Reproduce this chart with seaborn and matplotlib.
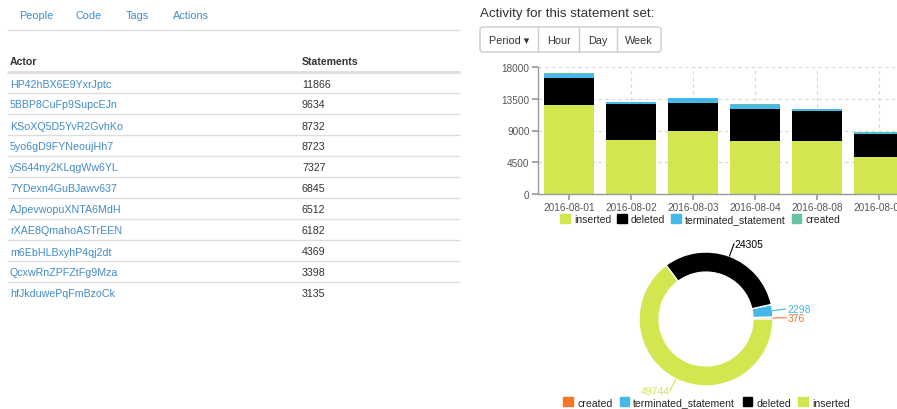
# plot.py - dashboard: actor table + stacked activity bars + verb donut
import numpy as np
import matplotlib
matplotlib.use("Agg")
import matplotlib.pyplot as plt
from matplotlib.patches import FancyBboxPatch, Patch
import seaborn as sns

sns.set_theme(style="white")
plt.rcParams["font.family"] = ["Liberation Sans", "DejaVu Sans"]

# --- data ---
nav_tabs = ["People", "Code", "Tags", "Actions"]
actors = ["HP42hBX6E9YxrJptc", "5BBP8CuFp9SupcEJn", "KSoXQ5D5YvR2GvhKo",
          "5yo6gD9FYNeoujHh7", "yS644ny2KLqgWw6YL", "7YDexn4GuBJawv637",
          "AJpevwopuXNTA6MdH", "rXAE8QmahoASTrEEN", "m6EbHLBxyhP4qj2dt",
          "QcxwRnZPFZtFg9Mza", "hfJkduwePqFmBzoCk"]
statements = [11866, 9634, 8732, 8723, 7327, 6845, 6512, 6182, 4369, 3398, 3135]
period_buttons = ["Period \u25be", "Hour", "Day", "Week"]

dates = ["2016-08-01", "2016-08-02", "2016-08-03", "2016-08-04",
         "2016-08-08", "2016-08-09"]
inserted = [12560, 7630, 9000, 7540, 7580, 5210]
deleted = [3890, 5070, 3890, 4500, 4130, 3230]
terminated = [570, 330, 670, 620, 280, 230]
created = [70, 60, 70, 60, 60, 56]
yticks = [0, 4500, 9000, 13500, 18000]

donut_labels = ["created", "terminated_statement", "deleted", "inserted"]
donut_values = [376, 2298, 24305, 49744]

LIME = "#d3e650"
BLACK = "#000000"
BLUE = "#45b8e8"
TEAL = "#66c2a5"
ORANGE = "#f5782a"
LINK = "#428bca"
TXT = "#333333"

W, H = 897, 410
fig = plt.figure(figsize=(W / 100, H / 100), dpi=100)
fig.patch.set_facecolor("white")

# background axes in pixel coords for the html-ish bits
bg = fig.add_axes([0, 0, 1, 1])
bg.set_xlim(0, W)
bg.set_ylim(H, 0)
bg.axis("off")

for name, x in zip(nav_tabs, [19, 76, 126, 173]):
    bg.text(x, 16, name, color=LINK, fontsize=7.8, va="center")
bg.hlines(31, 7, 460, color="#dddddd", lw=1)

bg.text(10, 62, "Actor", fontsize=7.6, weight="bold", color=TXT, va="center")
bg.text(302, 62, "Statements", fontsize=7.6, weight="bold", color=TXT, va="center")
bg.hlines(73, 7, 460, color="#dddddd", lw=2)
for i, (a, s) in enumerate(zip(actors, statements)):
    top = 73 + 21 * i
    if i:
        bg.hlines(top, 7, 460, color="#dddddd", lw=1)
    bg.text(10, top + 11.5, a, color=LINK, fontsize=7.7, va="center")
    bg.text(302, top + 11.5, str(s), color=TXT, fontsize=7.7, va="center")

bg.text(480, 14, "Activity for this statement set:", fontsize=9.6, color=TXT, va="center")
bg.add_patch(FancyBboxPatch((480, 28), 181, 25, boxstyle="round,pad=0,rounding_size=3",
                            fc="white", ec="#cccccc", lw=1))
edges = [480, 538, 579, 617, 661]
for j, lab in enumerate(period_buttons):
    if j:
        bg.vlines(edges[j], 28, 53, color="#cccccc", lw=1)
    bg.text((edges[j] + edges[j + 1]) / 2, 40.5, lab, fontsize=7.8, color=TXT,
            ha="center", va="center")

# --- stacked bars ---
ax = fig.add_axes([538 / W, (H - 195) / H, 372 / W, 127 / H])
layers = [("inserted", inserted, LIME), ("deleted", deleted, BLACK),
          ("terminated_statement", terminated, BLUE), ("created", created, TEAL)]
tops = np.cumsum([l[1] for l in layers], axis=0)
for (name, _, col), top in reversed(list(zip(layers, tops))):
    sns.barplot(x=dates, y=top, color=col, saturation=1, width=0.8,
                linewidth=0, errorbar=None, ax=ax)
ax.set_xlim(-0.5, len(dates) - 0.5)
ax.set_ylim(0, 18000)
ax.set_yticks(yticks)
ax.set_xlabel("")
ax.set_ylabel("")
ax.grid(True, linestyle=(0, (3, 3)), color="#d5d5d5", lw=0.8)
ax.set_axisbelow(True)
for sp in ["top", "right"]:
    ax.spines[sp].set_visible(False)
for sp in ["left", "bottom"]:
    ax.spines[sp].set_color("#999999")
    ax.spines[sp].set_linewidth(1)
ax.tick_params(bottom=True, left=True, length=4, color="#999999",
               labelsize=7.2, labelcolor="#555555", pad=2)

fig.legend(handles=[Patch(color=c) for _, _, c in layers],
           labels=[n for n, _, _ in layers],
           loc="center left", bbox_to_anchor=(555 / W, 1 - 220 / H), ncol=4,
           frameon=False, fontsize=7.5, handlelength=0.9, handleheight=0.9,
           handletextpad=0.4, columnspacing=0.6, borderpad=0)

# --- donut ---
cx, cy, r = 706, 320, 67
size = 2.5 * r
pax = fig.add_axes([(cx - size / 2) / W, (H - cy - size / 2) / H, size / W, size / H])
dcols = [ORANGE, BLUE, BLACK, LIME]
wedges, _ = pax.pie(donut_values, colors=dcols, startangle=0, counterclock=True,
                    wedgeprops=dict(width=0.3, edgecolor="white", linewidth=1))
for w, v, col in zip(wedges, donut_values, dcols):
    ang = np.deg2rad((w.theta1 + w.theta2) / 2)
    x, y = np.cos(ang), np.sin(ang)
    pax.plot([x, 1.2 * x], [y, 1.2 * y], color=col, lw=0.8)
    pax.text(1.22 * x if x > 0 else 1.2 * x, 1.2 * y, str(v), color=col, fontsize=7.5,
             ha="left" if x > 0 else "right", va="center")

fig.legend(handles=[Patch(color=c) for c in dcols], labels=donut_labels,
           loc="center left", bbox_to_anchor=(558 / W, 1 - 403.5 / H), ncol=4,
           frameon=False, fontsize=7.6, handlelength=0.9, handleheight=0.9,
           handletextpad=0.4, columnspacing=0.7, borderpad=0)

fig.savefig("out.png", dpi=100)
